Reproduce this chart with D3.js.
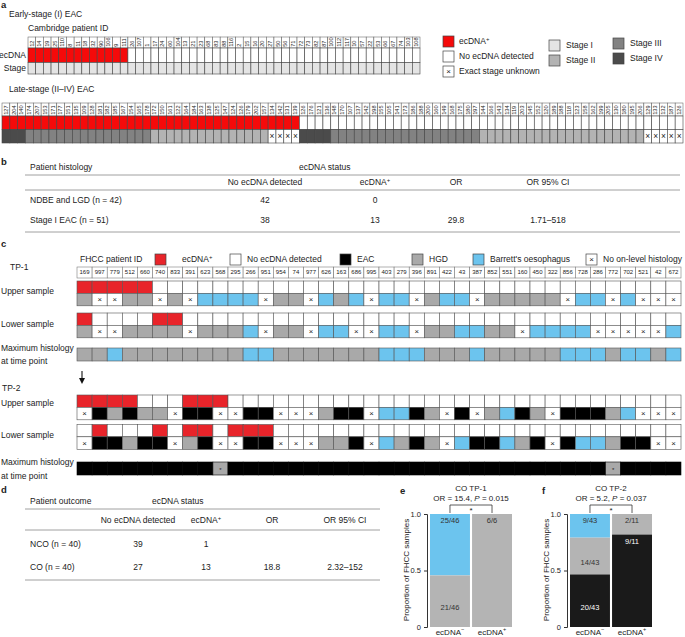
<!DOCTYPE html>
<html><head><meta charset="utf-8">
<script src="https://cdn.jsdelivr.net/npm/d3@7"></script>
<style>body{margin:0;background:#fff} text{font-family:"Liberation Sans",Arial,sans-serif;fill:#222}</style>
</head><body><svg id="c" width="685" height="637"></svg>
<script>
// ---------------- DATA ----------------
const earlyIds = ["12","14","19","25","110","8","11","18","32","90","106","9","111","26","107","1","17","24","60","104","13","21","23","68","83","88","116","2","15","16","20","27","50","56","71","72","73","82","87","100","112","117","10","57","22","53","66","67","74","103","108"];
const earlyEcdna = [1,1,1,1,1,1,1,1,1,1,1,1,1,0,0,0,0,0,0,0,0,0,0,0,0,0,0,0,0,0,0,0,0,0,0,0,0,0,0,0,0,0,0,0,0,0,0,0,0,0,0];
const earlyStage = [1,1,1,1,1,1,1,1,1,1,1,1,1,1,1,1,1,1,1,1,1,1,1,1,1,1,1,1,1,1,1,1,1,1,1,1,1,1,1,1,1,1,1,1,1,1,1,1,1,1,1];
const lateIds = ["127","204","140","174","207","153","171","177","151","135","109","128","181","182","185","167","154","165","178","172","150","161","122","164","184","163","138","125","147","124","126","179","202","157","134","142","131","139","126","176","121","136","148","170","107","137","142","198","155","105","141","173","186","188","200","160","149","168","175","180","197","144","166","143","134","119","203","145","152","120","189","188","118","123","158","162","199","205","130","180","195","206","129","133","132","187","126"];
const lateEcdna = [1,1,1,1,1,1,1,1,1,1,1,1,1,1,1,1,1,1,1,1,1,1,1,1,1,1,1,1,1,1,1,1,1,1,1,1,1,1,0,0,0,0,0,0,0,0,0,0,0,0,0,0,0,0,0,0,0,0,0,0,0,0,0,0,0,0,0,0,0,0,0,0,0,0,0,0,0,0,0,0,0,0,0,0,0,0,0];
// stage: 1-4, 0 = exact stage unknown
const lateStage = [4,4,4,3,3,3,3,3,3,3,3,3,3,3,3,3,3,3,3,2,2,2,2,2,2,2,2,2,2,2,2,2,2,2,0,0,0,0,4,4,4,4,3,3,3,3,3,3,3,3,3,3,3,3,3,3,3,3,3,3,3,2,2,2,2,2,2,2,2,2,2,2,2,2,2,2,2,2,2,2,2,2,0,0,0,0,0];

const tableB_cols = ["No ecDNA detected","ecDNA+","OR","OR 95% CI"];
const tableB_rows = [["NDBE and LGD (n = 42)","42","0","",""],["Stage I EAC (n = 51)","38","13","29.8","1.71–518"]];

const fhccIds = ["169","997","779","512","660","740","833","391","623","568","295","266","951","954","74","977","626","163","686","995","403","279","396","891","422","43","387","852","551","160","450","322","856","728","286","772","702","521","42","672"];
// histology: H = HGD, B = Barrett's, E = EAC, X = no on-level histology
const tp1UpperEc = [1,1,1,1,1,0,0,0,0,0,0,0,0,0,0,0,0,0,0,0,0,0,0,0,0,0,0,0,0,0,0,0,0,0,0,0,0,0,0,0];
const tp1UpperHist = ["H","X","X","H","H","X","H","X","B","B","B","B","X","H","H","X","B","H","B","X","B","B","X","H","B","B","X","H","H","H","H","H","X","B","B","X","B","X","X","X"];
const tp1LowerEc = [1,0,0,0,0,1,1,0,0,0,0,0,0,0,0,0,0,0,0,0,0,0,0,0,0,0,0,0,0,0,0,0,0,0,0,0,0,0,0,0];
const tp1LowerHist = ["H","X","X","H","H","H","H","X","H","H","H","B","X","H","H","X","B","B","X","X","B","B","X","H","H","B","B","H","H","X","B","B","B","B","X","X","X","X","X","B"];
const tp1Max = ["H","H","B","H","H","H","H","H","H","H","H","B","B","H","H","H","H","H","H","H","B","B","B","H","H","H","B","H","H","H","H","H","B","B","B","H","B","B","H","B"];
const tp2UpperEc = [1,1,1,1,0,0,0,1,1,1,0,0,0,0,0,0,0,0,0,0,0,0,0,0,0,0,0,0,0,0,0,0,0,0,0,0,0,0,0,0];
const tp2UpperHist = ["X","E","H","E","H","H","X","E","E","X","X","E","E","X","X","X","H","E","E","X","B","B","E","H","X","E","X","H","B","E","H","X","E","E","E","H","B","X","X","X"];
const tp2LowerEc = [0,1,0,0,0,1,0,1,1,0,1,1,1,0,0,0,0,0,0,0,0,0,0,0,0,0,0,0,0,0,0,0,0,0,0,0,0,0,0,0];
const tp2LowerHist = ["X","E","E","H","E","E","X","H","E","X","X","E","E","X","X","X","H","H","E","X","B","H","E","H","X","B","E","E","B","H","E","X","E","B","B","H","E","E","X","X"];
const tp2Max = ["E","E","E","E","E","E","E","E","E","H","E","E","E","E","E","E","E","E","E","E","E","E","E","E","E","E","E","E","E","E","E","E","E","E","E","H","E","E","E","E"];

const tableD_rows = [["NCO (n = 40)","39","1","",""],["CO (n = 40)","27","13","18.8","2.32–152"]];

const barCats = ["neg","pos"];
// panel e: CO TP-1
const eBlue = [25,0], eGray = [21,6], eTotal = [46,6];
// panel f: CO TP-2
const fBlue = [9,0], fGray = [14,2], fBlack = [20,9], fTotal = [43,11];

// ---------------- DRAW ----------------
const svg = d3.select("#c");
const RED_A = "#f50a0a", RED_C = "#e8242a", BLUE = "#6cc4ee", HGD = "#a9a9a9", EAC = "#000";
const stageCol = {0:"#fff",1:"#e4e4e4",2:"#b3b3b3",3:"#828282",4:"#4b4b4b"};
const histCol = {H:HGD,B:BLUE,E:EAC,X:"#fff"};

function T(x,y,s,o={}){
  const t = svg.append("text").attr("x",x).attr("y",y).attr("font-size",o.fs||8.5)
    .attr("text-anchor",o.anchor||"start").attr("dominant-baseline","middle");
  if(o.bold) t.attr("font-weight","bold");
  if(o.fill) t.style("fill",o.fill);
  if(s.endsWith("+")||s.endsWith("−")){
    t.append("tspan").text(s.slice(0,-1));
    t.append("tspan").attr("dy",-3).attr("font-size",(o.fs||8.5)*0.7).text(s.slice(-1));
  } else t.text(s);
  return t;
}
function xmark(g,cx,cy,fs){
  g.append("text").attr("x",cx).attr("y",cy+0.5).attr("text-anchor","middle").attr("dominant-baseline","middle")
   .attr("font-size",fs||7).style("fill","#222").text("×");
}
function row(g,x,vals,y,h,colFn,isX,stroke,sw){
  vals.forEach((v,i)=>{
    g.append("rect").attr("x",x(i)).attr("y",y).attr("width",x.bandwidth()).attr("height",h)
      .attr("fill",colFn(v)).attr("stroke",stroke||"#555").attr("stroke-width",sw||0.6);
  });
  vals.forEach((v,i)=>{ if(isX(v)) xmark(g,x(i)+x.bandwidth()/2,y+h/2,h*0.62); });
}

// ---- Panel a ----
T(1,5,"a",{bold:true,fs:9.5});
T(9,15,"Early-stage (I) EAC");
T(28,29,"Cambridge patient ID");
const ga = svg.append("g");
const xe = d3.scaleBand().domain(d3.range(earlyIds.length)).range([28,420]);
earlyIds.forEach((id,i)=>{
  ga.append("rect").attr("x",xe(i)).attr("y",37).attr("width",xe.bandwidth()).attr("height",11).attr("fill","#fff").attr("stroke","#555").attr("stroke-width",0.5);
  ga.append("text").attr("transform",`translate(${xe(i)+xe.bandwidth()/2+0.3},46.8) rotate(-90)`)
    .attr("font-size",5.6).attr("dominant-baseline","middle").text(id);
});
row(ga,xe,earlyEcdna,48,14.5,v=>v?RED_A:"#fff",v=>false,"#444",0.6);
row(ga,xe,earlyStage,62.5,11.5,v=>stageCol[v],v=>v===0,"#444",0.6);
T(26,56,"ecDNA",{anchor:"end"});
T(26,69,"Stage",{anchor:"end"});

// legend a
const lg = [[443,36,RED_A,"ecDNA+",0],[443,51,"#fff","No ecDNA detected",0],[443,66,"#fff","Exact stage unknown",1],
            [549,40,stageCol[1],"Stage I",0],[549,55,stageCol[2],"Stage II",0],[613,38,stageCol[3],"Stage III",0],[613,53,stageCol[4],"Stage IV",0]];
lg.forEach(([x,y,c,s,xm])=>{
  svg.append("rect").attr("x",x).attr("y",y).attr("width",11).attr("height",11).attr("fill",c).attr("stroke","#444").attr("stroke-width",0.7);
  if(xm) xmark(svg,x+5.5,y+5.5,8);
  T(x+(x<500?16:17),y+6,s);
});

T(9,90,"Late-stage (II–IV) EAC");
const xl = d3.scaleBand().domain(d3.range(lateIds.length)).range([2,683]);
lateIds.forEach((id,i)=>{
  ga.append("rect").attr("x",xl(i)).attr("y",103).attr("width",xl.bandwidth()).attr("height",13).attr("fill","#fff").attr("stroke","#555").attr("stroke-width",0.5);
  ga.append("text").attr("transform",`translate(${xl(i)+xl.bandwidth()/2+0.3},114.8) rotate(-90)`)
    .attr("font-size",5.6).attr("dominant-baseline","middle").text(id);
});
row(ga,xl,lateEcdna,116,13.5,v=>v?RED_A:"#fff",v=>false,"#444",0.6);
row(ga,xl,lateStage,129.5,13.5,v=>stageCol[v],v=>v===0,"#444",0.6);

// ---- Panel b ----
T(1,162,"b",{bold:true,fs:9.5});
T(30,168,"Patient histology");
T(299,168,"ecDNA status");
const bx = [265,375,456,548];
function hline(x1,x2,y){svg.append("line").attr("x1",x1).attr("x2",x2).attr("y1",y).attr("y2",y).attr("stroke","#888").attr("stroke-width",0.8);}
hline(25,680,175);
tableB_cols.forEach((c,i)=>T(bx[i],183,c,{anchor:"middle"}));
hline(25,680,190);
tableB_rows.forEach((r,j)=>{
  const y = 201+j*20;
  T(30,y,r[0]);
  r.slice(1).forEach((v,i)=>{ if(v) T(bx[i],y,v,{anchor:"middle"}); });
});
hline(25,680,232);

// ---- Panel c ----
T(1,244,"c",{bold:true,fs:9.5});
T(10,268,"TP-1");
T(80,260,"FHCC patient ID");
const lc = [[155,RED_C,"ecDNA+",0],[230,"#fff","No ecDNA detected",0],[340,EAC,"EAC",0],[412,HGD,"HGD",0],[473,BLUE,"Barrett's oesophagus",0],[586,"#fff","No on-level histology",1]];
lc.forEach(([x,c,s,xm])=>{
  svg.append("rect").attr("x",x).attr("y",254).attr("width",11).attr("height",11).attr("fill",c).attr("stroke","#444").attr("stroke-width",0.7);
  if(xm) xmark(svg,x+5.5,259.5,8);
  T(x+(x===155?27:17),260,s);
});
const gc = svg.append("g");
const xc = d3.scaleBand().domain(d3.range(fhccIds.length)).range([77,681]);
fhccIds.forEach((id,i)=>{
  gc.append("rect").attr("x",xc(i)).attr("y",267).attr("width",xc.bandwidth()).attr("height",11).attr("fill","#fff").attr("stroke","#666").attr("stroke-width",0.5);
  gc.append("text").attr("x",xc(i)+xc.bandwidth()/2).attr("y",272.8).attr("text-anchor","middle").attr("dominant-baseline","middle").attr("font-size",6).text(id);
});
const ecF = v=>v?RED_C:"#fff", hF = v=>histCol[v], isX = v=>v==="X";
row(gc,xc,tp1UpperEc,281,12.3,ecF,()=>false);
row(gc,xc,tp1UpperHist,293.3,12.5,hF,isX);
T(1,292,"Upper sample");
row(gc,xc,tp1LowerEc,313,12.3,ecF,()=>false);
row(gc,xc,tp1LowerHist,325.3,12.5,hF,isX);
T(1,325,"Lower sample");
row(gc,xc,tp1Max,348,13,hF,()=>false);
T(1,349,"Maximum histology");
T(1,362,"at time point");
// arrow
svg.append("line").attr("x1",82).attr("x2",82).attr("y1",371).attr("y2",380).attr("stroke","#111").attr("stroke-width",1.1);
svg.append("path").attr("d","M79,378 L85,378 L82,384 Z").attr("fill","#111");
T(2,389,"TP-2");
row(gc,xc,tp2UpperEc,395,12.3,ecF,()=>false);
row(gc,xc,tp2UpperHist,407.3,12.5,hF,isX);
T(1,404,"Upper sample");
row(gc,xc,tp2LowerEc,424.5,12.3,ecF,()=>false);
row(gc,xc,tp2LowerHist,436.8,12.7,hF,isX);
T(1,436,"Lower sample");
row(gc,xc,tp2Max,462,13,hF,()=>false,"#000",0.6);
tp2Max.forEach((v,i)=>{ if(v==="H") gc.append("text").attr("x",xc(i)+xc.bandwidth()/2).attr("y",470).attr("text-anchor","middle").attr("dominant-baseline","middle").attr("font-size",6).text("*"); });
T(1,463,"Maximum histology");
T(1,477,"at time point");

// ---- Panel d ----
T(1,490,"d",{bold:true,fs:9.5});
T(30,502,"Patient outcome");
T(152,502,"ecDNA status");
const dx = [138,206,272,345];
hline(25,380,509);
tableB_cols.forEach((c,i)=>T(dx[i],521,c,{anchor:"middle"}));
hline(25,380,530);
tableD_rows.forEach((r,j)=>{
  const y = 545+j*23;
  T(30,y,r[0]);
  r.slice(1).forEach((v,i)=>{ if(v) T(dx[i],y,v,{anchor:"middle"}); });
});
hline(25,380,580);

// ---- Panels e, f ----
function barPanel(letter,lx,axisX,range,title,orTxt,pTxt,segs,totals){
  T(lx,491,letter,{bold:true,fs:9.5});
  const x = d3.scaleBand().domain(barCats).range(range).paddingInner(0.05);
  const y = d3.scaleLinear().domain([0,1]).range([627,514]);
  const g = svg.append("g");
  const b1 = x("neg")+x.bandwidth()/2, b2 = x("pos")+x.bandwidth()/2;
  const cx = (b1+b2)/2;
  T(cx,489,title,{anchor:"middle",fs:8});
  const t = svg.append("text").attr("x",cx).attr("y",498.5).attr("text-anchor","middle").attr("dominant-baseline","middle").attr("font-size",8);
  t.append("tspan").text(orTxt+", ");
  t.append("tspan").attr("font-style","italic").text("P");
  t.append("tspan").text(" = "+pTxt);
  barCats.forEach((c,i)=>{
    let acc = 0, k = 0;
    segs.forEach(s=>{
      const v = s.vals[i]; if(!v) return;
      const f0 = acc/totals[i], f1 = (acc+v)/totals[i];
      const yt = y(1-f0), yb = y(1-f1);
      g.append("rect").attr("x",x(c)).attr("y",yt).attr("width",x.bandwidth()).attr("height",yb-yt).attr("fill",s.col);
      const ly = (k===0 || c==="pos") ? yt+7 : (yt+yb)/2+7;
      g.append("text").attr("x",x(c)+x.bandwidth()/2).attr("y",ly).attr("text-anchor","middle").attr("dominant-baseline","middle")
        .attr("font-size",7.5).style("fill",s.tc).text(v+"/"+totals[i]);
      acc += v; k++;
    });
    T(x(c)+x.bandwidth()/2,633,c==="neg"?"ecDNA−":"ecDNA+",{anchor:"middle",fs:8});
  });
  const ax = g.append("g").attr("transform",`translate(${axisX},0)`).call(d3.axisLeft(y).tickValues([0,0.5,1]).tickFormat(d=>d===0?"0":d3.format(".1f")(d)).tickSize(3));
  ax.selectAll("text").attr("font-size",7.5).style("font-family","Liberation Sans, Arial, sans-serif").style("fill","#222");
  ax.selectAll("path,line").attr("stroke","#333");
  g.append("text").attr("transform",`translate(${axisX-20},570) rotate(-90)`).attr("text-anchor","middle").attr("dominant-baseline","middle").attr("font-size",8).text("Proportion of FHCC samples");
  g.append("path").attr("d",`M${b1},513 V505 H${b2} V513`).attr("fill","none").attr("stroke","#333").attr("stroke-width",0.8);
  g.append("text").attr("x",(b1+b2)/2).attr("y",511).attr("text-anchor","middle").attr("dominant-baseline","middle").attr("font-size",8).text("*");
}
barPanel("e",400,427,[430,512],"CO TP-1","OR = 15.4","0.015",
  [{vals:eBlue,col:BLUE,tc:"#333"},{vals:eGray,col:"#b4b4b4",tc:"#333"}],eTotal);
barPanel("f",542,567,[570,652],"CO TP-2","OR = 5.2","0.037",
  [{vals:fBlue,col:BLUE,tc:"#333"},{vals:fGray,col:"#b4b4b4",tc:"#333"},{vals:fBlack,col:"#1a1a1a",tc:"#fff"}],fTotal);
</script></body></html>
